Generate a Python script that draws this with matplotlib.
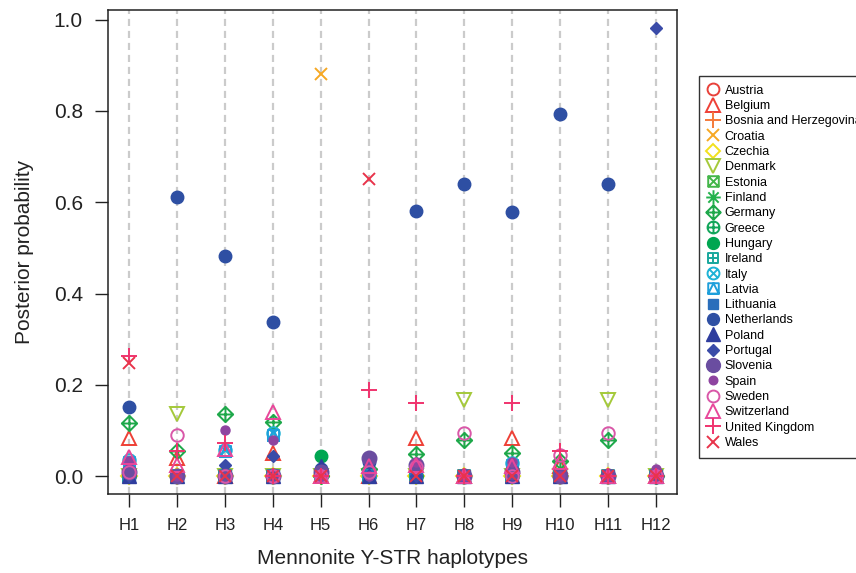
import numpy as np
import matplotlib.pyplot as plt
from matplotlib.path import Path

plt.rcParams['font.family'] = ['Liberation Sans', 'DejaVu Sans']

haplotypes = ['H1', 'H2', 'H3', 'H4', 'H5', 'H6', 'H7', 'H8', 'H9', 'H10', 'H11', 'H12']

countries = ['Austria', 'Belgium', 'Bosnia and Herzegovina', 'Croatia', 'Czechia', 'Denmark',
             'Estonia', 'Finland', 'Germany', 'Greece', 'Hungary', 'Ireland', 'Italy', 'Latvia',
             'Lithuania', 'Netherlands', 'Poland', 'Portugal', 'Slovenia', 'Spain', 'Sweden',
             'Switzerland', 'United Kingdom', 'Wales']

# posterior probabilities, one list per country (H1..H12)
austria     = [0, 0, 0, 0, 0, 0, 0, 0, 0, 0, 0, 0]
belgium     = [0.083, 0.039, 0, 0.05, 0, 0, 0.083, 0, 0.083, 0.022, 0, 0]
bosnia      = [0, 0, 0, 0, 0, 0, 0, 0, 0, 0, 0, 0]
croatia     = [0, 0, 0, 0, 0.882, 0, 0, 0, 0, 0, 0, 0]
czechia     = [0, 0, 0, 0, 0, 0, 0, 0, 0, 0, 0, 0]
denmark     = [0, 0.135, 0, 0, 0, 0, 0, 0.167, 0, 0, 0.167, 0]
estonia     = [0, 0, 0, 0, 0, 0, 0, 0, 0, 0, 0, 0]
finland     = [0, 0, 0, 0, 0, 0, 0, 0, 0, 0, 0, 0]
germany     = [0.116, 0.054, 0.136, 0.118, 0, 0.015, 0.048, 0.079, 0.05, 0.032, 0.079, 0]
greece      = [0, 0, 0, 0, 0, 0, 0, 0, 0, 0, 0, 0]
hungary     = [0, 0, 0, 0, 0.045, 0, 0, 0, 0, 0, 0, 0]
ireland     = [0, 0, 0, 0, 0, 0, 0, 0, 0, 0, 0, 0]
italy       = [0.035, 0, 0.057, 0.094, 0, 0, 0.02, 0, 0.028, 0, 0, 0]
latvia      = [0.03, 0, 0.055, 0.09, 0, 0, 0, 0, 0.025, 0, 0, 0]
lithuania   = [0, 0, 0, 0, 0, 0, 0, 0, 0, 0, 0, 0]
netherlands = [0.152, 0.611, 0.482, 0.338, 0.015, 0.03, 0.58, 0.64, 0.579, 0.793, 0.64, 0]
poland      = [0, 0, 0, 0, 0.022, 0, 0, 0, 0, 0, 0, 0]
portugal    = [0, 0, 0.025, 0.043, 0, 0, 0, 0, 0, 0, 0, 0.982]
slovenia    = [0.01, 0, 0, 0, 0.01, 0.04, 0.025, 0, 0.01, 0, 0, 0]
spain       = [0.032, 0, 0.101, 0.079, 0, 0, 0.03, 0, 0.03, 0, 0, 0.015]
sweden      = [0.008, 0.09, 0, 0, 0, 0.008, 0.02, 0.094, 0, 0.047, 0.094, 0]
switzerland = [0.042, 0.025, 0.06, 0.141, 0, 0.022, 0.025, 0, 0.022, 0.03, 0, 0]
uk          = [0.264, 0.055, 0.072, 0, 0, 0.188, 0.161, 0, 0.161, 0.054, 0, 0]
wales       = [0.247, 0, 0, 0, 0, 0.651, 0, 0, 0, 0, 0, 0]

series = [austria, belgium, bosnia, croatia, czechia, denmark, estonia, finland, germany,
          greece, hungary, ireland, italy, latvia, lithuania, netherlands, poland, portugal,
          slovenia, spain, sweden, switzerland, uk, wales]

colors = ['#E8413A', '#EE4036', '#F47A3A', '#F6A823', '#F2E01C', '#A4C93A', '#43B649',
          '#22B24C', '#1EA84A', '#12A65A', '#00A651', '#18A79D', '#1FB3D6', '#1E9FDB',
          '#2A6EBB', '#2E4FA3', '#2F3D9E', '#3A4BA8', '#6A4DA0', '#8E44A0', '#D957A8',
          '#E8479A', '#F0336E', '#E8334A']

M, L = Path.MOVETO, Path.LINETO
square = Path([(-1, -1), (1, -1), (1, 1), (-1, 1), (-1, -1)], [M, L, L, L, Path.CLOSEPOLY])
diamond = Path([(0, -1), (1, 0), (0, 1), (-1, 0), (0, -1)], [M, L, L, L, Path.CLOSEPOLY])
circle = Path.unit_circle()
xlines = Path([(-1, -1), (1, 1), (-1, 1), (1, -1)], [M, L, M, L])
xsmall = Path([(-.71, -.71), (.71, .71), (-.71, .71), (.71, -.71)], [M, L, M, L])
plus = Path([(0, -1), (0, 1), (-1, 0), (1, 0)], [M, L, M, L])
tri = Path([(-1, -1), (1, -1), (0, 1), (-1, -1)], [M, L, L, Path.CLOSEPOLY])

box_x = Path.make_compound_path(square, xlines)
asterisk = Path.make_compound_path(plus, xsmall)
diamond_plus = Path.make_compound_path(diamond, plus)
circle_plus = Path.make_compound_path(circle, plus)
box_plus = Path.make_compound_path(square, plus)
circle_x = Path.make_compound_path(circle, xsmall)
box_tri = Path.make_compound_path(square, tri)

# (marker, size, filled)
styles = [('o', 9, False), ('^', 10, False), ('+', 12, False), ('x', 9, False),
          ('D', 8, False), ('v', 10, False), (box_x, 8, False), (asterisk, 11, False),
          (diamond_plus, 11, False), (circle_plus, 9, False), ('o', 9, True),
          (box_plus, 8, False), (circle_x, 9, False), (box_tri, 8, False), ('s', 8, True),
          ('o', 9, True), ('^', 10, True), ('D', 6, True), ('o', 10.5, True),
          ('o', 6.5, True), ('o', 9, False), ('^', 10, False), ('+', 12, False),
          ('x', 9, False)]

x = np.arange(1, len(haplotypes) + 1)

fig = plt.figure(figsize=(8.56, 5.73), dpi=100)
ax = fig.add_axes([108 / 856, 79 / 573, 569 / 856, 484 / 573])

for xi in x:
    ax.axvline(xi, color='#CBCBCB', lw=1.6, linestyle=(0, (3.2, 2.2)), zorder=0)

handles = []
for name, vals, col, (mk, ms, filled) in zip(countries, series, colors, styles):
    h, = ax.plot(x, vals, linestyle='none', marker=mk, markersize=ms,
                 markerfacecolor=col if filled else 'none', markeredgecolor=col,
                 markeredgewidth=1.0 if filled else 1.4, label=name)
    handles.append(h)

ax.set_xlim(0.56, 12.44)
ax.set_ylim(-0.0393, 1.0213)
ax.set_xticks(x)
ax.set_xticklabels(haplotypes, fontsize=12, color='#222222')
ax.set_yticks([0, 0.2, 0.4, 0.6, 0.8, 1.0])
ax.set_yticklabels(['0.0', '0.2', '0.4', '0.6', '0.8', '1.0'], fontsize=15, color='#222222')
ax.tick_params(axis='y', length=9.5, width=1, pad=8.5, color='#222222')
ax.tick_params(axis='x', length=9, width=1, pad=8, color='#222222')
for s in ax.spines.values():
    s.set_linewidth(1.1)
    s.set_color('#222222')

ax.set_xlabel('Mennonite Y-STR haplotypes', fontsize=15, color='#222222', labelpad=12)
ax.set_ylabel('Posterior probability', fontsize=15, color='#222222', labelpad=14)

fig.legend(handles=handles, loc='upper left', bbox_to_anchor=(699 / 856, 1 - 76 / 573),
           bbox_transform=fig.transFigure, fontsize=9, frameon=True, fancybox=False,
           edgecolor='#333333', framealpha=1, borderpad=0.7, labelspacing=0.265,
           handlelength=0.8, handletextpad=0.55, borderaxespad=0, numpoints=1,
           markerscale=0.95)

plt.savefig('out.png', dpi=100)
